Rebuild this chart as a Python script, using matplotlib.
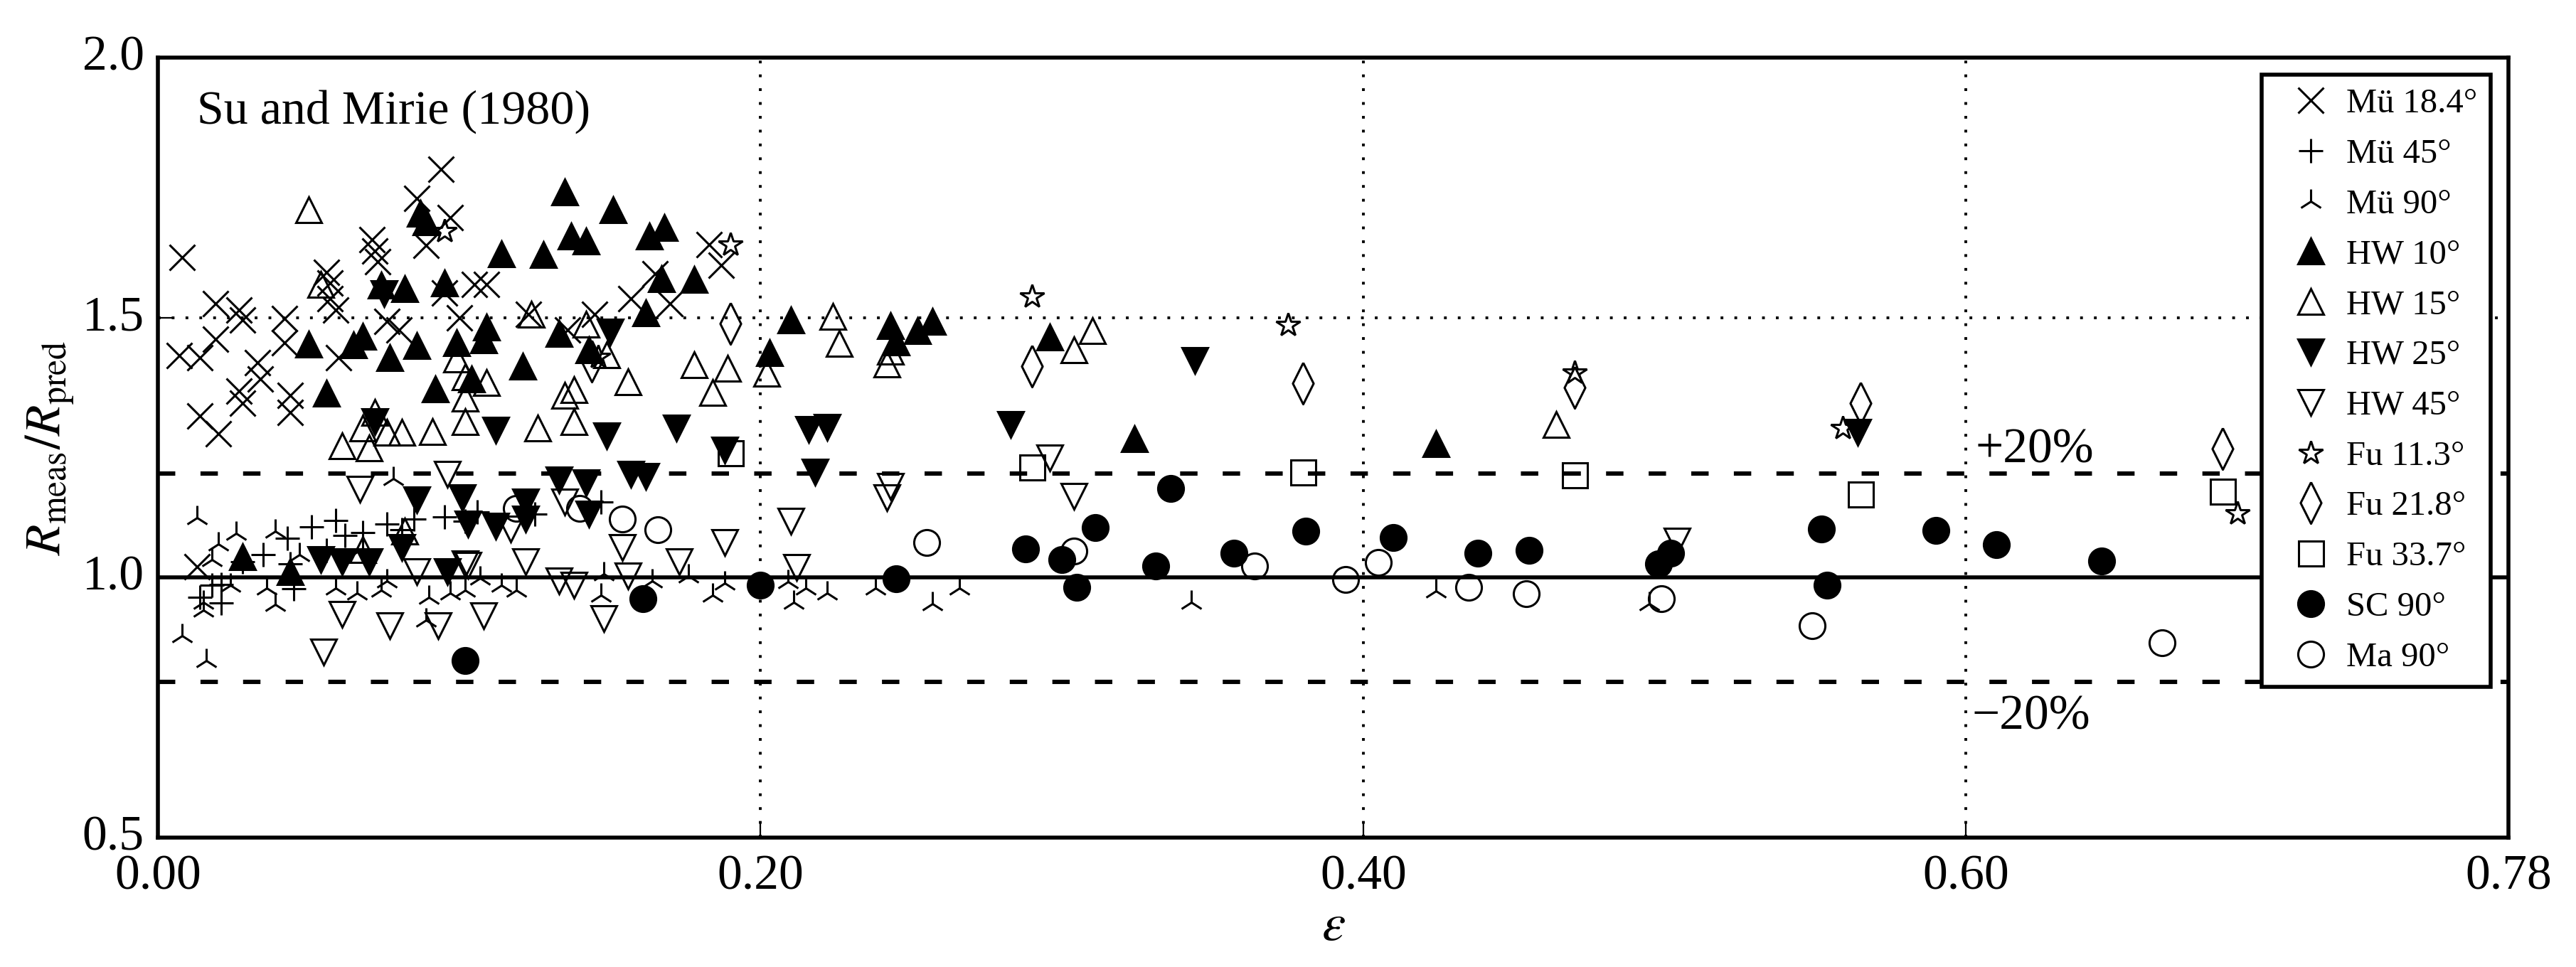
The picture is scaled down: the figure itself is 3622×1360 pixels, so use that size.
import matplotlib
matplotlib.use("Agg")
import matplotlib.pyplot as plt
import matplotlib.transforms as mtransforms
import numpy as np

plt.rcParams['font.family'] = ['Liberation Serif', 'DejaVu Serif']
plt.rcParams['mathtext.fontset'] = 'stix'

# ---------------- data ----------------
mu184_x = [0.094, 0.086, 0.097, 0.089, 0.071, 0.072, 0.073, 0.008, 0.056, 0.057, 0.057, 0.059,
           0.019, 0.027, 0.028, 0.019, 0.042, 0.042, 0.007, 0.014, 0.076, 0.080, 0.060, 0.033,
           0.034, 0.027, 0.028, 0.044, 0.044, 0.014, 0.020, 0.100, 0.105, 0.109, 0.095, 0.183,
           0.187, 0.165, 0.157, 0.170, 0.123, 0.145, 0.136, 0.013]
mu184_y = [1.786, 1.730, 1.692, 1.639, 1.650, 1.628, 1.607, 1.616, 1.587, 1.566, 1.536, 1.514,
           1.527, 1.514, 1.495, 1.459, 1.498, 1.452, 1.427, 1.423, 1.493, 1.477, 1.423, 1.413,
           1.382, 1.359, 1.336, 1.350, 1.318, 1.311, 1.277, 1.500, 1.564, 1.564, 1.548, 1.641,
           1.601, 1.584, 1.536, 1.527, 1.507, 1.507, 1.477, 1.021]

mu45_x = [0.051, 0.059, 0.062, 0.068, 0.076, 0.081, 0.085, 0.095, 0.102, 0.043, 0.035, 0.028,
          0.021, 0.021, 0.045, 0.056, 0.044, 0.106, 0.125, 0.147, 0.014, 0.018]
mu45_y = [1.097, 1.110, 1.081, 1.087, 1.103, 1.092, 1.113, 1.117, 1.108, 1.076, 1.044, 1.031,
          0.951, 0.987, 0.978, 1.053, 1.026, 1.126, 1.122, 1.145, 0.962, 0.985]

mu90_x = [0.078, 0.013, 0.026, 0.020, 0.039, 0.018, 0.068, 0.047, 0.015, 0.015, 0.039, 0.024,
          0.036, 0.059, 0.066, 0.074, 0.090, 0.089, 0.008, 0.016, 0.097, 0.076, 0.107, 0.119,
          0.147, 0.148, 0.164, 0.176, 0.188, 0.184, 0.102, 0.114, 0.209, 0.215, 0.211, 0.222,
          0.238, 0.257, 0.266, 0.343, 0.424, 0.495]
mu90_y = [1.190, 1.115, 1.085, 1.065, 1.090, 1.035, 1.056, 1.044, 0.953, 0.937, 0.948, 0.985,
          0.980, 0.980, 0.971, 0.976, 0.962, 0.919, 0.889, 0.841, 0.971, 0.994, 0.999, 0.976,
          0.967, 1.008, 0.994, 1.003, 0.989, 0.967, 0.976, 0.985, 0.992, 0.980, 0.953, 0.971,
          0.980, 0.950, 0.980, 0.953, 0.974, 0.950]

hw10_x = [0.087, 0.089, 0.074, 0.082, 0.095, 0.050, 0.065, 0.068, 0.077, 0.086, 0.099, 0.056,
          0.092, 0.135, 0.151, 0.137, 0.142, 0.163, 0.168, 0.114, 0.128, 0.167, 0.178, 0.162,
          0.109, 0.108, 0.133, 0.143, 0.121, 0.104, 0.203, 0.210, 0.243, 0.245, 0.252, 0.257,
          0.296, 0.324, 0.424, 0.028, 0.044]
hw10_y = [1.700, 1.684, 1.562, 1.555, 1.566, 1.449, 1.448, 1.464, 1.423, 1.446, 1.452, 1.354,
          1.363, 1.742, 1.707, 1.657, 1.647, 1.657, 1.673, 1.623, 1.621, 1.575, 1.573, 1.509,
          1.482, 1.457, 1.470, 1.438, 1.407, 1.382, 1.433, 1.496, 1.484, 1.453, 1.475, 1.493,
          1.463, 1.267, 1.257, 1.040, 1.012]

hw15_x = [0.050, 0.054, 0.099, 0.102, 0.102, 0.102, 0.072, 0.068, 0.076, 0.081, 0.091, 0.061,
          0.070, 0.124, 0.142, 0.149, 0.178, 0.189, 0.184, 0.202, 0.156, 0.138, 0.135, 0.109,
          0.126, 0.138, 0.224, 0.226, 0.242, 0.243, 0.304, 0.310, 0.464, 0.082, 0.068]
hw15_y = [1.707, 1.564, 1.420, 1.386, 1.345, 1.300, 1.318, 1.288, 1.279, 1.279, 1.281, 1.254,
          1.249, 1.507, 1.487, 1.429, 1.409, 1.402, 1.356, 1.393, 1.377, 1.361, 1.350, 1.375,
          1.288, 1.300, 1.502, 1.450, 1.411, 1.435, 1.438, 1.475, 1.294, 1.090, 1.054]

hw25_x = [0.075, 0.072, 0.150, 0.112, 0.149, 0.172, 0.188, 0.133, 0.142, 0.157, 0.162, 0.122,
          0.122, 0.143, 0.103, 0.112, 0.101, 0.086, 0.081, 0.054, 0.061, 0.070, 0.096, 0.344,
          0.216, 0.222, 0.283, 0.218, 0.564]
hw25_y = [1.546, 1.300, 1.472, 1.283, 1.272, 1.288, 1.245, 1.188, 1.183, 1.199, 1.195, 1.145,
          1.113, 1.122, 1.103, 1.099, 1.154, 1.149, 1.058, 1.035, 1.031, 1.031, 1.012, 1.417,
          1.285, 1.289, 1.295, 1.203, 1.279]

hw45_x = [0.135, 0.154, 0.188, 0.173, 0.122, 0.156, 0.133, 0.138, 0.108, 0.148, 0.103, 0.117,
          0.067, 0.096, 0.061, 0.077, 0.093, 0.055, 0.086, 0.102, 0.296, 0.304, 0.243, 0.242,
          0.210, 0.212, 0.504]
hw45_y = [1.145, 1.058, 1.067, 1.030, 1.030, 1.003, 0.994, 0.985, 0.926, 0.921, 1.024, 1.094,
          1.170, 1.199, 0.929, 0.907, 0.907, 0.857, 1.012, 1.026, 1.230, 1.157, 1.176, 1.154,
          1.108, 1.020, 1.070]

fu113_x = [0.095, 0.190, 0.146, 0.290, 0.375, 0.470, 0.559, 0.690]
fu113_y = [1.666, 1.641, 1.425, 1.541, 1.486, 1.395, 1.287, 1.124]

fu218_x = [0.190, 0.144, 0.290, 0.380, 0.470, 0.565, 0.685]
fu218_y = [1.489, 1.416, 1.406, 1.374, 1.365, 1.335, 1.248]

fu337_x = [0.190, 0.290, 0.380, 0.470, 0.565, 0.685]
fu337_y = [1.240, 1.212, 1.203, 1.197, 1.160, 1.166]

sc90_x = [0.161, 0.200, 0.102, 0.245, 0.288, 0.300, 0.311, 0.305, 0.331, 0.336, 0.357, 0.381,
          0.410, 0.438, 0.455, 0.502, 0.498, 0.552, 0.554, 0.590, 0.610, 0.645]
sc90_y = [0.960, 0.986, 0.841, 0.998, 1.055, 1.035, 1.096, 0.981, 1.023, 1.172, 1.047, 1.090,
          1.077, 1.047, 1.052, 1.047, 1.026, 1.093, 0.985, 1.091, 1.063, 1.032]

ma90_x = [0.119, 0.140, 0.154, 0.166, 0.255, 0.304, 0.364, 0.394, 0.405, 0.435, 0.454, 0.499,
          0.549, 0.665]
ma90_y = [1.133, 1.133, 1.113, 1.092, 1.067, 1.051, 1.023, 0.997, 1.029, 0.981, 0.969, 0.959,
          0.907, 0.875]

x_ticks = [0.00, 0.20, 0.40, 0.60, 0.78]
x_ticklabels = ['0.00', '0.20', '0.40', '0.60', '0.78']
y_ticks = [0.5, 1.0, 1.5, 2.0]
y_ticklabels = ['0.5', '1.0', '1.5', '2.0']

# ---------------- figure ----------------
fig = plt.figure(figsize=(18.11, 6.8), dpi=200)
ax = fig.add_axes([0.0613, 0.1338, 0.9125, 0.8066])

thin_diamond = [(0, 1), (0.5, 0), (0, -1), (-0.5, 0), (0, 1)]

series = [
    (mu184_x, mu184_y, 'x', 13.0, 'black', 'Mü 18.4°'),
    (mu45_x, mu45_y, '+', 12.0, 'black', 'Mü 45°'),
    (mu90_x, mu90_y, '2', 12.5, 'black', 'Mü 90°'),
    (hw10_x, hw10_y, '^', 13.3, 'black', 'HW 10°'),
    (hw15_x, hw15_y, '^', 13.3, 'none', 'HW 15°'),
    (hw25_x, hw25_y, 'v', 13.3, 'black', 'HW 25°'),
    (hw45_x, hw45_y, 'v', 13.3, 'none', 'HW 45°'),
    (fu113_x, fu113_y, '*', 12.5, 'none', 'Fu 11.3°'),
    (fu218_x, fu218_y, thin_diamond, 21.0, 'none', 'Fu 21.8°'),
    (fu337_x, fu337_y, 's', 12.6, 'none', 'Fu 33.7°'),
    (sc90_x, sc90_y, 'o', 13.0, 'black', 'SC 90°'),
    (ma90_x, ma90_y, 'o', 13.0, 'none', 'Ma 90°'),
]

# reference lines
ax.axhline(1.0, color='black', lw=2.0, zorder=1.5)
ax.axhline(1.2, color='black', lw=2.2, ls=(0, (4, 5.8)), zorder=1.5)
ax.axhline(0.8, color='black', lw=2.2, ls=(0, (4, 5.8)), zorder=1.5)

for xs, ys, m, ms, fc, lab in series:
    ax.plot(xs, ys, ls='none', marker=m, markersize=ms, markerfacecolor=fc,
            markeredgecolor='black', markeredgewidth=1.1, color='black', label=lab, zorder=3)

ax.set_xlim(0, 0.78)
ax.set_ylim(0.5, 2.0)
ax.set_xticks(x_ticks)
ax.set_xticklabels(x_ticklabels)
ax.set_yticks(y_ticks)
ax.set_yticklabels(y_ticklabels)
ax.tick_params(direction='in', length=7.5, width=0.8, labelsize=25)
ax.tick_params(axis='x', pad=8.5)
ax.tick_params(axis='y', pad=7)
# the reference's y tick labels sit slightly above their ticks
yoff = mtransforms.ScaledTranslation(0, 2.5 / 72, fig.dpi_scale_trans)
for lbl in ax.get_yticklabels():
    lbl.set_transform(lbl.get_transform() + yoff)
ax.grid(True, color='black', lw=1.4, ls=(0, (1, 4)), zorder=1)
for s in ax.spines.values():
    s.set_linewidth(2.0)

ax.set_xlabel(r'$\varepsilon$', fontsize=27, labelpad=2)
ax.set_ylabel(r'$R_{\mathrm{meas}}/R_{\mathrm{pred}}$', fontsize=25.5, labelpad=3)

ax.text(0.0166, 0.916, 'Su and Mirie (1980)', transform=ax.transAxes, fontsize=24.5,
        va='baseline', ha='left')
ax.text(0.603, 1.222, '+20%', fontsize=25, va='baseline', ha='left')
ax.text(0.602, 0.709, '\u221220%', fontsize=25, va='baseline', ha='left')

leg = ax.legend(loc='upper right', bbox_to_anchor=(0.9924, 0.978), fontsize=17.5,
                numpoints=1, handlelength=2.06, handletextpad=0.0, borderpad=0.39,
                labelspacing=0.55, borderaxespad=0.0, fancybox=False, framealpha=1.0,
                edgecolor='black')
leg.get_frame().set_linewidth(2.0)
leg.set_zorder(5)

fig.savefig('out.png', dpi=200)
